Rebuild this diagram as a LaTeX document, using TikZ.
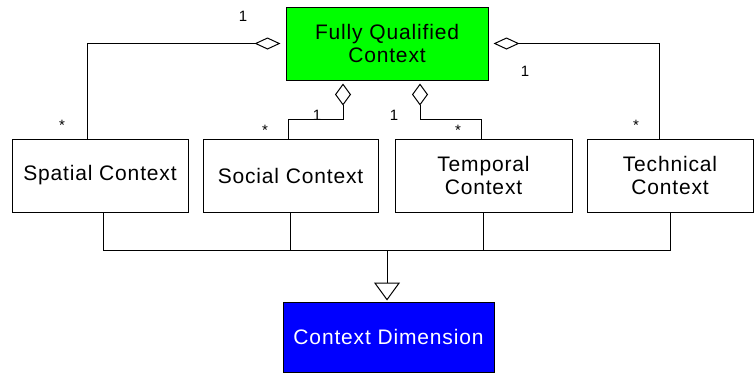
\documentclass[tikz,border=0pt]{standalone}
\usepackage{fontspec}
\setmainfont[LetterSpace=4]{Liberation Sans}
\usetikzlibrary{arrows.meta,calc}
\begin{document}
\begin{tikzpicture}[x=1pt,y=-1pt,
  cls/.style={draw=black,line width=1pt,fill=white,minimum height=73pt,inner sep=2pt,
    align=center,font=\fontsize{21}{23}\selectfont},
  link/.style={draw=black,line width=1pt},
  agg/.style={link,-{Diamond[open,length=26pt,width=12pt]},shorten >=5pt},
  aggv/.style={link,-{Diamond[open,length=22pt,width=16pt]},shorten >=3pt},
  mult/.style={font=\fontsize{15}{16}\selectfont,inner sep=0pt}]
\useasboundingbox (0,0) rectangle (754,373);
% classes
\node[cls,fill={rgb,255:red,0;green,255;blue,0},minimum width=202pt] (fqc) at (387,43.5) {Fully Qualified\\Context};
\node[cls,minimum width=176pt] (spatial) at (100,175.5) {Spatial Context};
\node[cls,minimum width=175pt] (social) at (290.5,175.5) {Social Context};
\node[cls,minimum width=177pt] (temporal) at (483.5,175.5) {Temporal\\Context};
\node[cls,minimum width=166pt] (technical) at (670,175.5) {Technical\\Context};
\node[cls,fill={rgb,255:red,0;green,0;blue,255},text=white,minimum width=211pt,minimum height=70pt] (dim) at (388.5,337) {Context Dimension};
% aggregations to the fully qualified context
\draw[agg] ($(spatial.north west)+(76,0)$) |- (fqc.west);
\draw[agg] ($(technical.north west)+(73,0)$) |- (fqc.east);
\draw[aggv] ($(social.north west)+(86,0)$) -- ++(0,-19) -| ($(fqc.south)+(-44,0)$);
\draw[aggv] ($(temporal.north west)+(87,0)$) -- ++(0,-19) -| ($(fqc.south)+(33,0)$);
% multiplicities
\node[mult] (m1) at (243,16) {1};
\node[mult] (m2) at (62,125) {*};
\node[mult] (m3) at (525,71) {1};
\node[mult] (m4) at (636,125) {*};
\node[mult] (m5) at (317,115) {1};
\node[mult] (m6) at (265,130) {*};
\node[mult] (m7) at (394,115) {1};
\node[mult] (m8) at (458,130) {*};
% generalisation
\coordinate (bus) at (387,250);
\draw[link] ($(spatial.south)+(3,0)$) |- (technical.south |- bus) -- (technical.south);
\draw[link] (social.south) -- (social.south |- bus);
\draw[link] (temporal.south) -- (temporal.south |- bus);
\draw[link,-{Triangle[open,length=18pt,width=26pt]},shorten >=1pt] (bus) -- (bus |- dim.north);
\end{tikzpicture}
\end{document}
